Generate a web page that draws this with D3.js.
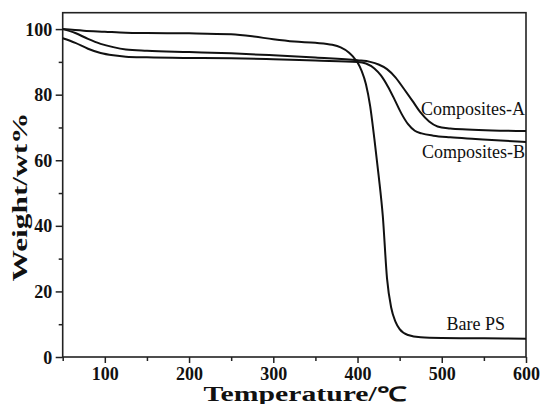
<!DOCTYPE html>
<html><head><meta charset="utf-8">
<script src="https://cdn.jsdelivr.net/npm/d3@7"></script>
<style>body{margin:0;background:#fff}svg{display:block}</style>
</head><body>
<script>
const bareT = [50,75,100,125,150,200,250,275,300,325,350,370,380,390,395,400,405,410,415,420,425,430,435,440,445,450,460,475,500,550,600];
const bareV = [100,99.5,99.2,98.9,98.8,98.7,98.4,97.8,96.9,96.2,95.8,95.2,94.4,92.8,91.5,89.8,87.2,83.2,76.5,66.5,55.5,43,24,15,10.8,8.5,6.7,6.0,5.8,5.7,5.6];
const compAT = [50,65,80,95,110,125,150,200,250,300,350,400,415,425,435,445,455,465,475,485,495,510,530,560,600];
const compAV = [100,98.8,97.0,95.5,94.5,93.8,93.4,93.0,92.6,92.0,91.3,90.5,90.0,89.2,87.8,85.3,81.8,78.2,74.5,71.8,70.3,69.7,69.4,69.1,68.9];
const compBT = [50,65,80,95,110,125,150,200,250,300,350,400,410,420,428,436,444,452,460,468,476,490,510,540,570,600];
const compBV = [97.2,95.8,94.0,92.7,92.0,91.6,91.4,91.2,91.1,90.8,90.4,90.0,89.5,88.0,85.8,82.5,78.5,74.3,71.0,69.0,68.2,67.5,67.0,66.5,66.0,65.6];
const xTicks = [100,200,300,400,500,600];
const xMinor = [50,150,250,350,450,550];
const yTicks = [0,20,40,60,80,100];
const yMinor = [10,30,50,70,90];
const seriesNames = ["Composites-A","Composites-B","Bare PS"];

const W = 541, H = 404;
const m = {l:62.7, r:526, t:12.7, b:357};
const svg = d3.select("body").append("svg").attr("width",W).attr("height",H);
const x = d3.scaleLinear().domain([50,600]).range([m.l,m.r]);
const y = d3.scaleLinear().domain([0,105]).range([m.b,m.t]);

const serifB = "'Liberation Serif','Times New Roman',serif";

// frame
svg.append("rect").attr("x",m.l).attr("y",m.t).attr("width",m.r-m.l).attr("height",m.b-m.t)
  .attr("fill","none").attr("stroke","#222").attr("stroke-width",1.6);

// x axis
const xAxis = svg.append("g").attr("transform",`translate(0,${m.b})`)
  .call(d3.axisBottom(x).tickValues(xTicks).tickSize(6).tickFormat(d3.format("d")));
const xMin = svg.append("g").attr("transform",`translate(0,${m.b})`)
  .call(d3.axisBottom(x).tickValues(xMinor).tickSize(4).tickFormat(""));
// y axis
const yAxis = svg.append("g").attr("transform",`translate(${m.l},0)`)
  .call(d3.axisLeft(y).tickValues(yTicks).tickSize(7).tickFormat(d3.format("d")));
const yMin = svg.append("g").attr("transform",`translate(${m.l},0)`)
  .call(d3.axisLeft(y).tickValues(yMinor).tickSize(4).tickFormat(""));

[xAxis,xMin,yAxis,yMin].forEach(g=>{
  g.select(".domain").remove();
  g.selectAll("line").attr("stroke","#222").attr("stroke-width",1.5);
  g.selectAll("text").attr("font-family",serifB).attr("font-weight","bold")
    .attr("font-size",18).attr("fill","#111");
});
xAxis.selectAll("text").attr("y",7).attr("dy","0.9em");
yAxis.selectAll("text").attr("x",-10.5).attr("dy","0.34em");

// titles
svg.append("text").attr("x",305).attr("y",401).attr("text-anchor","middle")
  .attr("font-family",serifB).attr("font-weight","bold").attr("font-size",20)
  .attr("textLength",203).attr("lengthAdjust","spacingAndGlyphs")
  .attr("fill","#111").text("Temperature/℃");
svg.append("text").attr("transform","translate(27,197) rotate(-90)").attr("text-anchor","middle")
  .attr("font-family",serifB).attr("font-weight","bold").attr("font-size",22)
  .attr("textLength",169).attr("lengthAdjust","spacingAndGlyphs")
  .attr("fill","#111").text("Weight/wt%");

// curves
const line = d3.line().x(d=>x(d[0])).y(d=>y(d[1])).curve(d3.curveMonotoneX);
const series = [
  {name:seriesNames[0], pts:d3.zip(compAT,compAV), lx:525, ly:115, anchor:"end"},
  {name:seriesNames[1], pts:d3.zip(compBT,compBV), lx:525, ly:158, anchor:"end"},
  {name:seriesNames[2], pts:d3.zip(bareT,bareV), lx:505, ly:330, anchor:"end"}
];
svg.append("g").selectAll("path").data(series).join("path")
  .attr("d",d=>line(d.pts)).attr("fill","none").attr("stroke","#111")
  .attr("stroke-width",2).attr("stroke-linejoin","round");
svg.append("g").selectAll("text").data(series).join("text")
  .attr("x",d=>d.lx).attr("y",d=>d.ly).attr("text-anchor",d=>d.anchor)
  .attr("font-family","'Liberation Serif','Times New Roman',serif").attr("font-size",18)
  .attr("fill","#111").text(d=>d.name);
</script>
</body></html>
